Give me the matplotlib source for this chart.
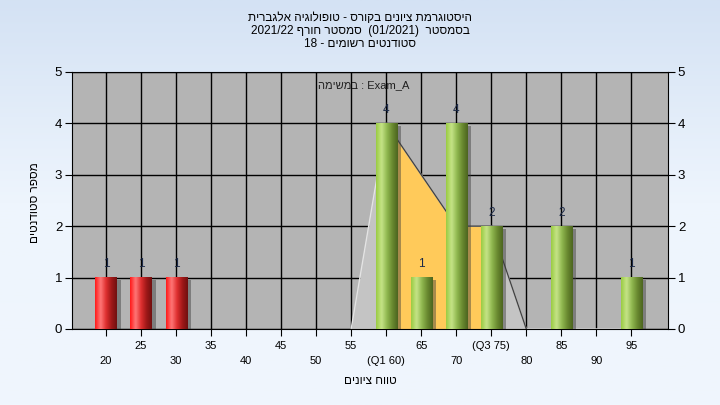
import numpy as np
import matplotlib
matplotlib.use("Agg")
import matplotlib.pyplot as plt
from matplotlib.colors import LinearSegmentedColormap

plt.rcParams['font.family'] = ['Liberation Sans', 'DejaVu Sans']
heb_font = ['Liberation Sans', 'DejaVu Sans']

# data
grades = [20, 25, 30, 35, 40, 45, 50, 55, 60, 65, 70, 75, 80, 85, 90, 95]
tick_text = ['20', '25', '30', '35', '40', '45', '50', '55', '(Q1 60)', '65',
             '70', '(Q3 75)', '80', '85', '90', '95']
counts = [1, 1, 1, 0, 0, 0, 0, 0, 4, 1, 4, 2, 0, 2, 0, 1]
curve_grades = [55, 60, 65, 70, 75, 80, 85, 90, 95]
curve_vals = [0, 4, 3, 2, 2, 0, 0, 0, 0]
q1, q3 = 60, 75
pass_grade = 55

# hebrew strings written in visual (left to right) order
title = ("תירבגלא היגולופוט - סרוקב םינויצ תמרגוטסיה\n"
         "2021/22 ףרוח רטסמס  (01/2021)  רטסמסב\n"
         "18 - םימושר םיטנדוטס")
task_text = "המישמב : Exam_A"
xlabel = "םינויצ חווט"
ylabel = "םיטנדוטס רפסמ"

fig = plt.figure(figsize=(7.2, 4.05), dpi=100)

# background gradient
bg = fig.add_axes([0, 0, 1, 1], zorder=-10)
bg_cmap = LinearSegmentedColormap.from_list('bg', ['#d4e2f4', '#eef5fd', '#f0f6fd'])
bg.imshow(np.linspace(0, 1, 256).reshape(-1, 1), cmap=bg_cmap, aspect='auto',
          extent=[0, 1, 0, 1])
bg.axis('off')

ax = fig.add_axes([0.1, 0.1877, 0.828, 0.635])
ax.set_facecolor('#b4b4b4')

pos = {g: i for i, g in enumerate(grades)}

# area curve
cx = np.array([pos[g] for g in curve_grades], dtype=float)
cy = np.array(curve_vals, dtype=float)
inside = (np.array(curve_grades) >= q1) & (np.array(curve_grades) <= q3)
ax.fill_between(cx, 0, cy, color='#c4c4c4', zorder=1, lw=0)
ax.fill_between(cx, 0, cy, where=inside, color='#ffca5a', zorder=1.1, lw=0)
ax.plot(cx, cy, color='#e4e4e4', lw=1, zorder=1.2)
k1, k3 = list(curve_grades).index(q1), list(curve_grades).index(q3)
ax.plot(cx[k1:k3 + 2], cy[k1:k3 + 2], color='#444444', lw=1, zorder=1.3)

# bars with cylinder shading
green = LinearSegmentedColormap.from_list('g', ['#9acb42', '#c6e488', '#90b850', '#6a8a30', '#4c6420'])
red = LinearSegmentedColormap.from_list('r', ['#ff1818', '#ff7878', '#e03030', '#a01818', '#701010'])
grad = np.linspace(0, 1, 64).reshape(1, -1)
w = 0.6
for g, c in zip(grades, counts):
    if c == 0:
        continue
    x = pos[g]
    ax.bar(x + 0.13, c, width=w, bottom=-0.05, color='#3c3c3c', alpha=0.45, zorder=2, lw=0)
    cmap = red if g < pass_grade else green
    ax.imshow(grad, cmap=cmap, aspect='auto', interpolation='bicubic',
              extent=[x - w / 2, x + w / 2, 0, c], zorder=3)
    ax.text(x, c + 0.26, str(c), ha='center', va='center', fontsize=8.5,
            color='#1c2a48', zorder=4)

ax.set_xlim(-0.97, 16.05)
ax.set_ylim(0, 5)
ax.set_xticks(range(len(grades)))
ax.set_xticklabels([t if i % 2 else '\n' + t for i, t in enumerate(tick_text)], fontsize=8)
for lab in ax.get_xticklabels():
    lab.set_linespacing(1.6)
ax.set_yticks(range(6))
ax.tick_params(axis='y', labelright=True, right=True, direction='out', length=5,
               labelsize=9.5, pad=2)
ax.tick_params(axis='x', direction='out', length=5, pad=4)
ax.grid(True, color='black', lw=1, zorder=0.5)
ax.set_axisbelow(True)
for s in ax.spines.values():
    s.set_color('black')

ax.text(0.49, 0.95, task_text, transform=ax.transAxes, ha='center', va='center',
        fontsize=8, color='#202020', zorder=5, family=heb_font)

fig.text(0.5, 0.97, title, ha='center', va='top', fontsize=8.5, linespacing=1.12,
         family=heb_font)
fig.text(0.515, 0.06, xlabel, ha='center', va='center', fontsize=8.5, family=heb_font)
fig.text(0.048, 0.5, ylabel, ha='center', va='center', rotation=90, fontsize=8.5,
         family=heb_font)

fig.savefig('out.png', dpi=100)
